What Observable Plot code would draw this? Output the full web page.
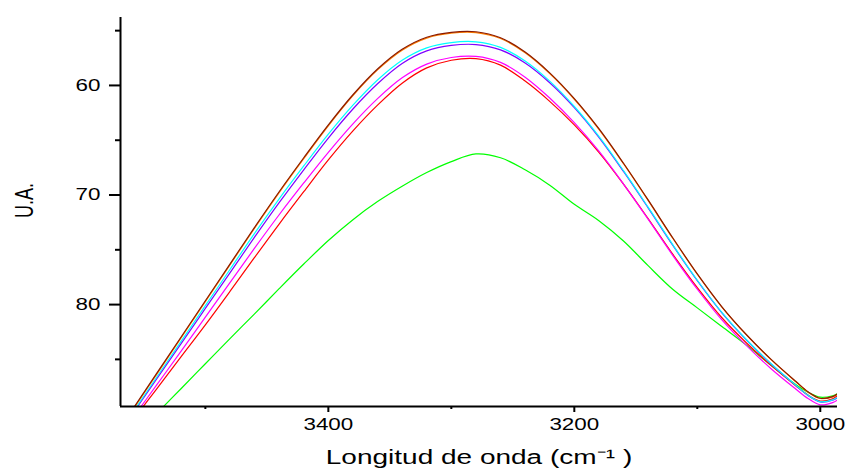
<!DOCTYPE html>
<html><head><meta charset="utf-8">
<script src="https://cdn.jsdelivr.net/npm/d3@7"></script>
<script src="https://cdn.jsdelivr.net/npm/@observablehq/plot@0.6"></script>
<style>body{margin:0;background:#fff} svg{display:block}</style>
</head><body><div id="chart"></div>
<script>
const wavenumber = [3560,3540,3520,3500,3480,3460,3440,3420,3400,3380,3360,3340,3320,3300,3280,3260,3240,3220,3200,3180,3160,3140,3120,3100,3080,3060,3040,3020,3010,3000,2990,2986];
const green   = [null,89.99,87.7,85.4,83.1,80.85,78.55,76.3,74.15,72.25,70.6,69.2,67.95,66.95,66.25,66.6,67.7,69.1,70.85,72.35,74.2,76.45,78.6,80.3,82.0,83.7,85.55,87.3,88.0,88.45,88.32,88.13];
const red     = [90.7,87.75,84.8,81.85,78.8,75.7,72.65,69.7,66.8,64.15,61.8,59.8,58.4,57.7,57.55,58.15,59.6,61.45,63.6,66.1,69.0,72.15,75.4,78.45,81.2,83.5,85.55,87.4,88.25,88.8,88.6,88.31];
const magenta = [90.5,87.4,84.3,81.15,78.0,74.85,71.8,68.9,66.1,63.5,61.2,59.3,58.05,57.45,57.35,57.9,59.25,61.15,63.4,66.0,69.0,72.2,75.5,78.6,81.4,83.75,85.85,87.7,88.57,89.15,88.95,88.71];
const violet  = [90.1,86.85,83.6,80.35,77.1,73.85,70.7,67.7,64.8,62.15,59.85,58.0,56.85,56.35,56.27,56.75,57.95,59.75,62.02,64.73,67.85,71.17,74.58,77.82,80.75,83.23,85.42,87.37,88.3,88.89,88.73,88.49];
const cyan    = [90.0,86.7,83.4,80.1,76.8,73.5,70.35,67.35,64.45,61.8,59.5,57.7,56.57,56.09,56.02,56.53,57.77,59.61,61.92,64.65,67.78,71.11,74.52,77.78,80.72,83.21,85.4,87.35,88.28,88.87,88.7,88.46];
const orange  = [89.78,86.43,83.08,79.73,76.38,73.03,69.78,66.68,63.68,60.93,58.58,56.78,55.68,55.23,55.18,55.72,57.02,58.92,61.26,64.0,67.14,70.49,73.94,77.23,80.22,82.77,85.02,87.02,87.97,88.57,88.42,88.18];
const wine    = [89.7,86.35,83.0,79.65,76.3,72.95,69.7,66.6,63.6,60.85,58.5,56.7,55.6,55.15,55.1,55.65,56.95,58.85,61.2,63.95,67.1,70.45,73.9,77.2,80.2,82.75,85.0,87.0,87.95,88.55,88.4,88.16];

const seriesNames  = ["green","red","magenta","violet","cyan","orange","wine"];
const seriesValues = [green, red, magenta, violet, cyan, orange, wine];
const seriesColors = ["#00ff00","#ff0000","#ff00ff","#8000ff","#00ffff","#ff8000","#8b1a00"];

const xTicks = [3400,3200,3000];
const xMinor = [3500,3300,3100];
const yTicks = [60,70,80];
const yMinor = [55,65,75,85];
const xTitle = "Longitud de onda (cm\u207B\u00B9 )";
const yTitle = "U.A.";

const rows = [];
seriesValues.forEach((vals, k) => vals.forEach((v, i) => {
  if (v != null) rows.push({wn: wavenumber[i], v, s: seriesNames[k]});
}));

const svg = Plot.plot({
  width: 847, height: 468,
  marginLeft: 120, marginRight: 10, marginTop: 17, marginBottom: 62,
  style: {fontFamily: "'Liberation Sans', Arial, sans-serif", background: "#fff", color: "#000"},
  x: {domain: [3569, 2986]},
  y: {domain: [89.3, 53.8]},
  color: {domain: seriesNames, range: seriesColors},
  marks: [
    Plot.line(rows, {x: "wn", y: "v", z: "s", stroke: "s", strokeWidth: 1.2, curve: "catmull-rom", clip: true}),
    Plot.ruleX([3569], {strokeWidth: 2}),
    Plot.ruleY([89.3], {strokeWidth: 2}),
    Plot.axisY(yTicks, {tickSize: 11, tickPadding: 9, fontSize: 16, strokeWidth: 2, label: null, tickFormat: d3.format("d")}),
    Plot.axisY(yMinor, {tickSize: 5, text: null, strokeWidth: 2, label: null}),
    Plot.axisX(xTicks, {tickSize: 6, tickPadding: 6, fontSize: 16, strokeWidth: 2, label: null, tickFormat: d3.format("d")}),
    Plot.axisX(xMinor, {tickSize: 3, text: null, strokeWidth: 2, label: null}),
    Plot.text([xTitle], {frameAnchor: "bottom", dy: 57, fontSize: 20}),
    Plot.text([yTitle], {frameAnchor: "left", dx: -96, dy: 6, rotate: -90, fontSize: 18})
  ]
});

// the reference's lettering is widened horizontally
svg.querySelectorAll("text").forEach(t => {
  let tr = t.getAttribute("transform") || "";
  const x = +t.getAttribute("x") || 0, y = +t.getAttribute("y") || 0;
  if (x || y) { t.removeAttribute("x"); t.removeAttribute("y"); tr += ` translate(${x},${y})`; }
  if (tr.includes("rotate(")) tr = tr.replace("rotate(", "scale(1.4,1) rotate(");
  else tr += " scale(1.4,1)";
  t.setAttribute("transform", tr.trim());
});

document.getElementById("chart").appendChild(svg);
</script>
</body></html>
